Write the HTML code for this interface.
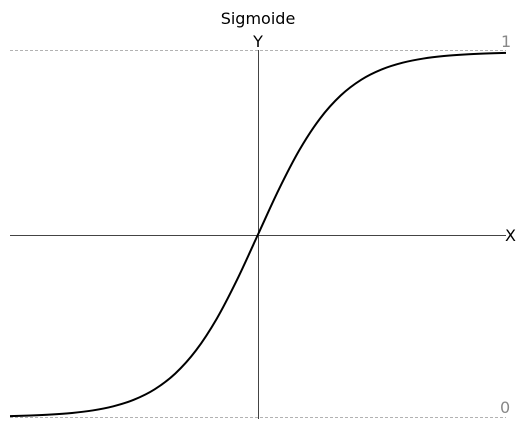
<!DOCTYPE html>
<html><head><meta charset="utf-8"><style>
body{margin:0;background:#fff;}
svg{display:block;font-family:"DejaVu Sans","Liberation Sans",sans-serif;}
</style></head><body>
<svg id="chart" width="527" height="430" viewBox="0 0 527 430">
<text x="258" y="24" text-anchor="middle" font-size="16" fill="#000">Sigmoide</text>
<line x1="10" y1="50.5" x2="506" y2="50.5" stroke="#999" stroke-width="0.8" stroke-dasharray="3,2"/>
<line x1="10" y1="417.5" x2="506" y2="417.5" stroke="#999" stroke-width="0.8" stroke-dasharray="3,2"/>
<line x1="10" y1="235.5" x2="506" y2="235.5" stroke="#444" stroke-width="1"/>
<line x1="258.5" y1="50" x2="258.5" y2="419" stroke="#444" stroke-width="1"/>
<text x="258" y="47" text-anchor="middle" font-size="16" fill="#000">Y</text>
<text x="505" y="241" font-size="16" fill="#000">X</text>
<text x="501" y="47" font-size="16" fill="#888">1</text>
<text x="500" y="413" font-size="16" fill="#888">0</text>
<path id="curve" fill="none" stroke="#000" stroke-width="2"/>
</svg>
<script>
const xValues=[-6,-5.5,-5,-4.5,-4,-3.5,-3,-2.5,-2,-1.5,-1,-0.5,0,0.5,1,1.5,2,2.5,3,3.5,4,4.5,5,5.5,6];
const yValues=[0.00247,0.00407,0.00669,0.01099,0.01799,0.02931,0.04743,0.07586,0.1192,0.18243,0.26894,0.37754,0.5,0.62246,0.73106,0.81757,0.8808,0.92414,0.95257,0.97069,0.98201,0.98901,0.99331,0.99593,0.99753];
const xScale=v=>10+(v+6)/12*496;
const yScale=v=>417-v*365;
const pts=xValues.map((x,i)=>[xScale(x),yScale(yValues[i])]);
let d=`M${pts[0][0]},${pts[0][1]}`;
for(let i=0;i<pts.length-1;i++){
  const p0=pts[Math.max(i-1,0)],p1=pts[i],p2=pts[i+1],p3=pts[Math.min(i+2,pts.length-1)];
  const c1=[p1[0]+(p2[0]-p0[0])/6,p1[1]+(p2[1]-p0[1])/6];
  const c2=[p2[0]-(p3[0]-p1[0])/6,p2[1]-(p3[1]-p1[1])/6];
  d+=` C${c1[0]},${c1[1]} ${c2[0]},${c2[1]} ${p2[0]},${p2[1]}`;
}
document.getElementById('curve').setAttribute('d',d);
</script>
</body></html>
